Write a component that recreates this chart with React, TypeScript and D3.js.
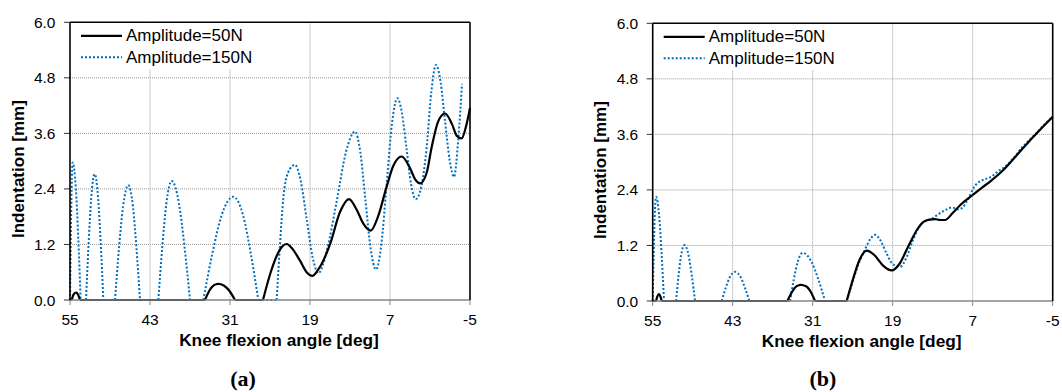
import React from 'react';
import * as d3 from 'd3';

type Pt = [number, number];

// Knee flexion angle ticks (axis runs from 55 down to -5 deg) and indentation ticks (mm)
const angleTicks = [55, 43, 31, 19, 7, -5];
const depthTicks = [0, 1.2, 2.4, 3.6, 4.8, 6.0];
const seriesNames = ['Amplitude=50N', 'Amplitude=150N'];
const panelTags = ['(a)', '(b)'];

// Panel (a): [angle deg, indentation mm]
const panelA50: Pt[] = [
  [55, 0], [54.75, 0], [54.45, 0.12], [54.1, 0.16], [53.8, 0.12], [53.5, 0],
  [34.75, 0], [34.1, 0.2], [33.4, 0.32], [32.75, 0.35], [32.0, 0.32], [31.1, 0.2], [30.25, 0],
  [26.05, 0], [25.0, 0.55], [24.0, 0.95], [23.2, 1.15], [22.5, 1.21], [21.6, 1.1], [20.5, 0.85],
  [19.5, 0.6], [18.65, 0.52], [17.8, 0.65], [16.0, 1.2], [14.5, 1.9], [13.15, 2.18], [12.0, 1.95],
  [11.0, 1.65], [9.9, 1.5], [8.8, 1.8], [7.6, 2.4], [6.5, 2.9], [5.25, 3.1], [4.0, 2.85],
  [3.2, 2.6], [2.5, 2.52], [1.5, 2.75], [0.75, 3.3], [-0.2, 3.85], [-1.25, 4.03], [-2.3, 3.8],
  [-3.0, 3.55], [-3.75, 3.49], [-4.4, 3.75], [-5, 4.15],
];

const panelA150: Pt[] = [
  [55, 0], [54.88, 1.34], [54.76, 2.41], [54.6, 2.97], [54.12, 2.41], [53.76, 1.34], [53.4, 0],
  [52.6, 0], [52.21, 1.22], [51.82, 2.2], [51.3, 2.72], [50.78, 2.2], [50.39, 1.22], [50.0, 0],
  [48.25, 0], [47.65, 1.12], [47.05, 2.01], [46.25, 2.48], [45.55, 2.01], [45.03, 1.12], [44.5, 0],
  [41.75, 0], [41.15, 1.16], [40.55, 2.08], [39.75, 2.57], [38.65, 2.08], [37.83, 1.16], [37.0, 0],
  [35.0, 0], [33.65, 1.0], [32.3, 1.81], [30.5, 2.23], [29.0, 1.81], [27.88, 1.0], [26.75, 0],
  [24.0, 0], [23.5, 1.2], [23.0, 2.2], [22.3, 2.75], [21.25, 2.92], [20.4, 2.58], [19.5, 1.75],
  [18.6, 0.92], [17.75, 0.58], [16.4, 1.12], [15.0, 2.13], [13.6, 3.2], [12.25, 3.64],
  [11.46, 3.2], [10.68, 2.15], [9.89, 1.1], [9.1, 0.66], [8.3, 1.2], [7.5, 2.51], [6.7, 3.82],
  [5.9, 4.36], [5.21, 4.04], [4.52, 3.27], [3.84, 2.5], [3.15, 2.18], [2.3, 2.45], [1.5, 3.3],
  [0.8, 4.5], [0.1, 5.08], [-0.6, 4.7], [-1.25, 3.87], [-1.95, 3.02], [-2.6, 2.66],
  [-3.25, 3.49], [-3.8, 4.67],
];

// Panel (b)
const panelB50: Pt[] = [
  [55, 0], [54.5, 0], [54.3, 0.1], [54.05, 0.15], [53.85, 0.1], [53.65, 0],
  [34.8, 0], [34.0, 0.22], [33.4, 0.32], [32.8, 0.35], [32.0, 0.32], [31.3, 0.2], [30.65, 0],
  [25.9, 0], [25.0, 0.45], [24.0, 0.88], [22.9, 1.09], [21.8, 1.0], [20.4, 0.76], [19.15, 0.66],
  [18.0, 0.8], [16.6, 1.2], [15.3, 1.55], [14.4, 1.71], [13.5, 1.76], [12.65, 1.77], [11.9, 1.75],
  [11.15, 1.75], [10.0, 1.9], [8.9, 2.07], [7.0, 2.29], [5.6, 2.45], [4.4, 2.58], [2.4, 2.83],
  [-0.1, 3.23], [-2.1, 3.55], [-3.5, 3.76], [-5, 3.98],
];

const panelB150: Pt[] = [
  [55, 0], [54.85, 1.01], [54.7, 1.82], [54.5, 2.25], [54.02, 1.82], [53.66, 1.01], [53.3, 0],
  [51.5, 0], [51.13, 0.54], [50.75, 0.98], [50.25, 1.21], [49.61, 0.98], [49.13, 0.54], [48.65, 0],
  [44.65, 0], [44.05, 0.28], [43.45, 0.51], [42.65, 0.63], [41.79, 0.51], [41.15, 0.28], [40.5, 0],
  [34.4, 0], [33.83, 0.47], [33.26, 0.84], [32.5, 1.04], [31.16, 0.84], [30.16, 0.47], [29.15, 0],
  [25.9, 0], [25.0, 0.42], [24.0, 0.85], [23.2, 1.1], [22.3, 1.35], [21.65, 1.43], [20.8, 1.3],
  [19.9, 1.02], [19.0, 0.8], [17.9, 0.74], [16.9, 0.95], [16.0, 1.3], [14.9, 1.63], [14.0, 1.73],
  [13.2, 1.77], [12.2, 1.87], [10.9, 1.98], [10.1, 2.02], [9.2, 1.98], [8.5, 2.02], [7.9, 2.15],
  [6.6, 2.5], [5.4, 2.62], [4.4, 2.67], [3.2, 2.8], [2.0, 2.92], [0.8, 3.1], [-0.3, 3.3],
  [-1.3, 3.45], [-2.5, 3.62], [-3.8, 3.82], [-5, 3.98],
];

const SANS = '"Liberation Sans", Arial, Helvetica, sans-serif';
const SERIF = '"Liberation Serif", "Times New Roman", serif';
const BLUE = '#0070C0';

interface Frame {
  left: number;
  right: number;
  top: number;
  bottom: number;
  tagX: number;
}

// Split a series into flat (zero) runs and curved runs so that each lobe
// keeps a crisp corner where it leaves or meets the zero line.
function buildPath(pts: Pt[], x: d3.ScaleLinear<number, number>, y: d3.ScaleLinear<number, number>) {
  const curved = d3.line<Pt>().x(d => x(d[0])).y(d => y(d[1])).curve(d3.curveMonotoneX);
  const straight = d3.line<Pt>().x(d => x(d[0])).y(d => y(d[1]));
  const groups: { flat: boolean; pts: Pt[] }[] = [];
  for (let i = 1; i < pts.length; i++) {
    const flat = pts[i - 1][1] === 0 && pts[i][1] === 0;
    const last = groups[groups.length - 1];
    if (last && last.flat === flat) last.pts.push(pts[i]);
    else groups.push({ flat, pts: [pts[i - 1], pts[i]] });
  }
  return groups.map(g => (g.flat ? straight(g.pts) : curved(g.pts))).join('');
}

function Panel({ frame, s50, s150, tag }: { frame: Frame; s50: Pt[]; s150: Pt[]; tag: string }) {
  const { left, right, top, bottom } = frame;
  const x = d3.scaleLinear().domain([55, -5]).range([left, right]);
  const y = d3.scaleLinear().domain([0, 6]).range([bottom, top]);
  const midX = (left + right) / 2;
  const midY = (top + bottom) / 2;

  return (
    <g>
      {/* grid */}
      {depthTicks.filter(t => t > 0 && t < 6).map(t => (
        <line key={'h' + t} x1={left} x2={right} y1={y(t)} y2={y(t)}
          stroke="#9a9a9a" strokeWidth={1} strokeDasharray="1,1" />
      ))}
      {angleTicks.filter(t => t !== 55 && t !== -5).map(t => (
        <line key={'v' + t} x1={x(t)} x2={x(t)} y1={top} y2={bottom}
          stroke="#9a9a9a" strokeWidth={1} strokeDasharray="1,1" />
      ))}

      {/* legend background */}
      <rect x={left + 1} y={top + 1} width={196} height={46} fill="#fff" />

      {/* series */}
      <path d={buildPath(s150, x, y)} fill="none" stroke={BLUE} strokeWidth={2}
        strokeDasharray="2,2" />
      <path d={buildPath(s50, x, y)} fill="none" stroke="#000" strokeWidth={2.2}
        strokeLinejoin="round" />

      {/* bottom axis */}
      <line x1={left} x2={right} y1={bottom} y2={bottom} stroke="#868686" strokeWidth={1.5} />
      {angleTicks.map(t => (
        <g key={'xt' + t}>
          <line x1={x(t)} x2={x(t)} y1={bottom} y2={bottom + 5} stroke="#868686" strokeWidth={1} />
          <text x={x(t)} y={bottom + 19.5} textAnchor="middle" dominantBaseline="central"
            fontFamily={SANS} fontSize={15.5} fill="#000">{t}</text>
        </g>
      ))}

      {/* left axis */}
      {depthTicks.map(t => (
        <g key={'yt' + t}>
          <line x1={left - 6} x2={left} y1={y(t)} y2={y(t)} stroke="#333" strokeWidth={1} />
          <text x={left - 14.5} y={y(t)} textAnchor="end" dominantBaseline="central"
            fontFamily={SANS} fontSize={15.5} fill="#000">{t.toFixed(1)}</text>
        </g>
      ))}

      {/* frame */}
      <line x1={left} x2={left} y1={top} y2={bottom} stroke="#000" strokeWidth={1.6} />
      <line x1={left} x2={right} y1={top} y2={top} stroke="#000" strokeWidth={1.6} />
      <line x1={right} x2={right} y1={top} y2={bottom} stroke="#000" strokeWidth={1.6} />

      {/* legend */}
      <line x1={left + 11} x2={left + 52} y1={top + 13.5} y2={top + 13.5} stroke="#000" strokeWidth={2.2} />
      <text x={left + 56} y={top + 13.5} dominantBaseline="central" fontFamily={SANS}
        fontSize={17} fill="#000">{seriesNames[0]}</text>
      <line x1={left + 11} x2={left + 52} y1={top + 35} y2={top + 35} stroke={BLUE} strokeWidth={2}
        strokeDasharray="2,2" />
      <text x={left + 56} y={top + 35} dominantBaseline="central" fontFamily={SANS}
        fontSize={17} fill="#000">{seriesNames[1]}</text>

      {/* axis titles */}
      <text x={midX + 9} y={bottom + 40} textAnchor="middle" dominantBaseline="central"
        fontFamily={SANS} fontWeight="bold" fontSize={17.3} fill="#000">Knee flexion angle [deg]</text>
      <text transform={`translate(${left - 46.5},${midY + 8}) rotate(-90)`} textAnchor="middle"
        fontFamily={SANS} fontWeight="bold" fontSize={17} fill="#000">Indentation [mm]</text>

      {/* panel tag */}
      <text x={frame.tagX} y={386} textAnchor="middle" fontFamily={SERIF} fontWeight="bold"
        fontSize={22} fill="#000">{tag}</text>
    </g>
  );
}

export default function App() {
  const frames: Frame[] = [
    { left: 70, right: 470, top: 22.3, bottom: 300, tagX: 243 },
    { left: 652.7, right: 1052.7, top: 23.3, bottom: 301, tagX: 823 },
  ];
  return (
    <div style={{ position: 'absolute', left: 0, top: 0, width: 1062, height: 392, background: '#fff' }}>
      <svg width={1062} height={392} viewBox="0 0 1062 392" style={{ display: 'block' }}>
        <rect width={1062} height={392} fill="#fff" />
        <Panel frame={frames[0]} s50={panelA50} s150={panelA150} tag={panelTags[0]} />
        <Panel frame={frames[1]} s50={panelB50} s150={panelB150} tag={panelTags[1]} />
      </svg>
    </div>
  );
}
